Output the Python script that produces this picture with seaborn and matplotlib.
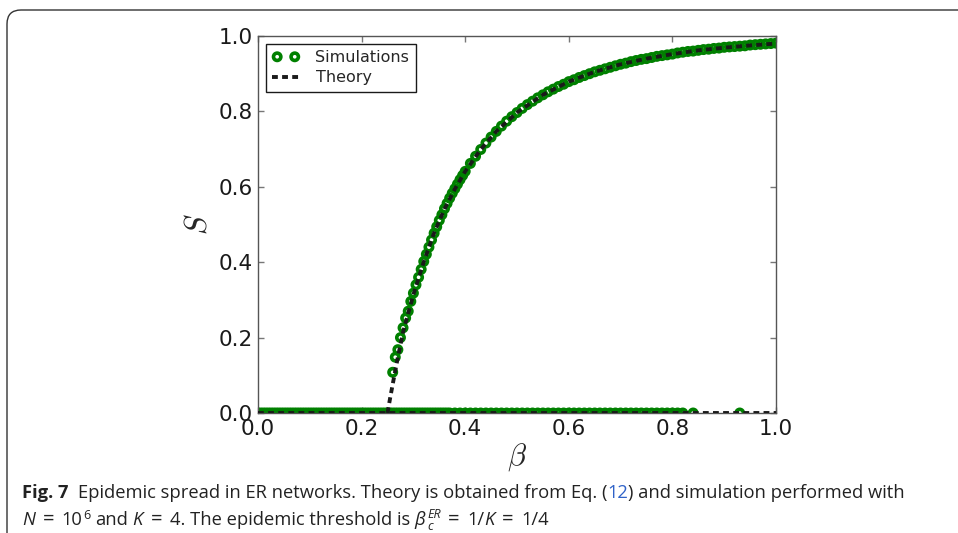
import matplotlib
matplotlib.use("Agg")
import matplotlib.pyplot as plt
import matplotlib.transforms as mtransforms
from matplotlib.patches import FancyBboxPatch
import numpy as np
import pandas as pd
import seaborn as sns

# simulations that produced an outbreak
sim_beta = [0.26, 0.265, 0.27, 0.275, 0.28, 0.285, 0.29, 0.295, 0.30, 0.305,
            0.31, 0.315, 0.32, 0.325, 0.33, 0.335, 0.34, 0.345, 0.35, 0.355,
            0.36, 0.365, 0.37, 0.375, 0.38, 0.385, 0.39, 0.395, 0.40,
            0.41, 0.42, 0.43, 0.44, 0.45, 0.46, 0.47, 0.48, 0.49, 0.50,
            0.51, 0.52, 0.53, 0.54, 0.55, 0.56, 0.57, 0.58, 0.59, 0.60,
            0.61, 0.62, 0.63, 0.64, 0.65, 0.66, 0.67, 0.68, 0.69, 0.70,
            0.71, 0.72, 0.73, 0.74, 0.75, 0.76, 0.77, 0.78, 0.79, 0.80,
            0.81, 0.82, 0.83, 0.84, 0.85, 0.86, 0.87, 0.88, 0.89, 0.90,
            0.91, 0.92, 0.93, 0.94, 0.95, 0.96, 0.97, 0.98, 0.99, 1.00]
sim_s = [0.108, 0.148, 0.168, 0.200, 0.226, 0.252, 0.270, 0.296, 0.318, 0.340,
         0.360, 0.381, 0.402, 0.421, 0.440, 0.459, 0.477, 0.494, 0.511, 0.526,
         0.542, 0.556, 0.570, 0.583, 0.595, 0.607, 0.619, 0.630, 0.641,
         0.662, 0.681, 0.699, 0.716, 0.732, 0.747, 0.761, 0.774, 0.786, 0.797,
         0.808, 0.818, 0.827, 0.836, 0.844, 0.852, 0.859, 0.866, 0.872, 0.879,
         0.884, 0.890, 0.895, 0.900, 0.905, 0.909, 0.913, 0.917, 0.921, 0.925,
         0.928, 0.932, 0.935, 0.938, 0.940, 0.943, 0.946, 0.948, 0.950, 0.952,
         0.955, 0.957, 0.959, 0.960, 0.962, 0.964, 0.965, 0.967, 0.968, 0.970,
         0.971, 0.972, 0.973, 0.974, 0.976, 0.977, 0.978, 0.979, 0.980, 0.981]

# simulations that died out
sim_zero_beta = [0.00, 0.005, 0.01, 0.015, 0.02, 0.025, 0.03, 0.035, 0.04, 0.045,
                 0.05, 0.055, 0.06, 0.065, 0.07, 0.075, 0.08, 0.085, 0.09, 0.095,
                 0.10, 0.105, 0.11, 0.115, 0.12, 0.125, 0.13, 0.135, 0.14, 0.145,
                 0.15, 0.155, 0.16, 0.165, 0.17, 0.175, 0.18, 0.185, 0.19, 0.195,
                 0.20, 0.205, 0.21, 0.215, 0.22, 0.225, 0.23, 0.235, 0.24, 0.245,
                 0.25, 0.255, 0.26, 0.265, 0.27, 0.275, 0.28, 0.285, 0.29, 0.295,
                 0.30, 0.305, 0.31, 0.315, 0.32, 0.325, 0.33, 0.335, 0.34, 0.345,
                 0.35, 0.355, 0.36, 0.365, 0.37, 0.38, 0.39,
                 0.40, 0.41, 0.42, 0.43, 0.44, 0.45, 0.46, 0.47, 0.48, 0.49,
                 0.50, 0.51, 0.52, 0.53, 0.54, 0.55, 0.56, 0.57, 0.58, 0.59,
                 0.60, 0.61, 0.62, 0.63, 0.64, 0.65, 0.66, 0.67, 0.68, 0.69,
                 0.70, 0.71, 0.72, 0.73, 0.74, 0.75, 0.76, 0.77, 0.78, 0.79,
                 0.80, 0.81, 0.82, 0.84, 0.93]
sim_zero_s = [0.0] * len(sim_zero_beta)

# theory, nontrivial branch and trivial S = 0 branch
theory_beta = [0.25, 0.255, 0.26, 0.265, 0.27, 0.28, 0.29, 0.30, 0.32, 0.34,
               0.36, 0.38, 0.40, 0.43, 0.46, 0.50, 0.55, 0.60, 0.65, 0.70,
               0.75, 0.80, 0.85, 0.90, 0.95, 1.00]
theory_s = [0.0, 0.039, 0.076, 0.112, 0.148, 0.214, 0.265, 0.314, 0.401, 0.478,
            0.541, 0.594, 0.641, 0.699, 0.747, 0.797, 0.844, 0.879, 0.905, 0.925,
            0.940, 0.952, 0.962, 0.969, 0.975, 0.980]
theory_zero_beta = [0.0, 1.0]
theory_zero_s = [0.0, 0.0]

ticks = [0.0, 0.2, 0.4, 0.6, 0.8, 1.0]
tick_labels = ["0.0", "0.2", "0.4", "0.6", "0.8", "1.0"]

sims = pd.DataFrame({"beta": sim_zero_beta + sim_beta, "S": sim_zero_s + sim_s})
theory = pd.DataFrame({"beta": theory_beta, "S": theory_s})
theory_zero = pd.DataFrame({"beta": theory_zero_beta, "S": theory_zero_s})

sns.set_theme(style="white")
plt.rcParams["font.family"] = ["DejaVu Sans"]
plt.rcParams["mathtext.fontset"] = "cm"

fig = plt.figure(figsize=(9.58, 5.33), dpi=100)
ax = fig.add_axes([258 / 958, 1 - 413 / 533, 518 / 958, 377 / 533])

green = "#008000"
sns.scatterplot(data=sims, x="beta", y="S", ax=ax, s=28, marker="o",
                facecolor="none", edgecolor=green, linewidth=2.6,
                label="Simulations", zorder=2)
dash = (0, (1.5, 1.1))
sns.lineplot(data=theory, x="beta", y="S", ax=ax, color="k", linewidth=2.8,
             linestyle=dash, label="Theory", zorder=3)
sns.lineplot(data=theory_zero, x="beta", y="S", ax=ax, color="k", linewidth=2.8,
             linestyle=dash, zorder=3)

ax.set_xlim(0, 1)
ax.set_ylim(0, 1)
ax.set_xticks(ticks)
ax.set_xticklabels(tick_labels)
ax.set_yticks(ticks)
ax.set_yticklabels(tick_labels)
ax.tick_params(direction="in", top=True, right=True, bottom=True, left=True,
               length=4, width=1, colors="#777777", labelcolor="k",
               labelsize=15.5, pad=4)
for sp in ax.spines.values():
    sp.set_color("#555555")
    sp.set_linewidth(1.0)

ax.set_xlabel(r"$\beta$", fontsize=22, labelpad=2)
ax.set_ylabel(r"$S$", fontsize=22, labelpad=4)

leg = ax.legend(loc="upper left", scatterpoints=2, scatteryoffsets=[0.5],
                fontsize=11.5, frameon=True, fancybox=False, framealpha=1,
                edgecolor="k", handlelength=1.7, borderaxespad=0.5,
                borderpad=0.4, labelspacing=0.3, handletextpad=1.0)
leg.get_frame().set_linewidth(1.0)

# rounded frame around the figure panel
ident = mtransforms.IdentityTransform()
frame = FancyBboxPatch((7, -60), 1100, 523 + 60, boxstyle="round,pad=0,rounding_size=14",
                       transform=ident, fill=False, edgecolor="#333333", linewidth=1.0)
fig.add_artist(frame)

# caption
cap_font = ["Open Sans", "DejaVu Sans"]
reg = dict(family=cap_font, fontsize=13.2, color="#222222")
bold = dict(reg, weight="bold")
ital = dict(reg, style="italic")
small = dict(reg, fontsize=9)
small_it = dict(ital, fontsize=9)
blue = dict(reg, color="#2f62c8")
eqs = dict(reg, fontsize=14.5)

fig.canvas.draw()
renderer = fig.canvas.get_renderer()


def width_of(s, kw):
    t = fig.text(0, 0, s, transform=ident, **kw)
    w = t.get_window_extent(renderer).width
    t.remove()
    return w


space = width_of("x x", reg) - width_of("xx", reg)


def write_line(pieces, x, y):
    hold = None
    for text, kw, gap, dy, keep in pieces:
        x += gap * space
        start = x if hold is None else hold[0]
        t = fig.text(start, y + dy, text, transform=ident, ha="left", va="baseline", **kw)
        x1 = t.get_window_extent(renderer).x1
        if keep:
            hold = (start, x1)
            x = start
        else:
            x = x1 if hold is None else max(x1, hold[1])
            hold = None


eq = 1.6
line1 = [("Fig. 7", bold, 0, 0, False),
         ("Epidemic spread in ER networks. Theory is obtained from Eq. (", reg, 2, 0, False),
         ("12", blue, 0, 0, False),
         (") and simulation performed with", reg, 0, 0, False)]
line2 = [("N", ital, 0, 0, False),
         ("=", eqs, eq, 0, False),
         ("10", reg, eq, 0, False),
         ("6", small, 0.1, 6, False),
         ("and", reg, 1, 0, False),
         ("K", ital, 1, 0, False),
         ("=", eqs, eq, 0, False),
         ("4. The epidemic threshold is", reg, eq, 0, False),
         ("\u03b2", ital, 1, 0, False),
         ("ER", small_it, 0.4, 7, True),
         ("c", small_it, 0, -5, False),
         ("=", eqs, eq, 0, False),
         ("1/", reg, eq, 0, False),
         ("K", ital, 0, 0, False),
         ("=", eqs, eq, 0, False),
         ("1/4", reg, eq, 0, False)]

write_line(line1, 22, 533 - 498)
write_line(line2, 22, 533 - 525)

fig.savefig("out.png", dpi=100)
